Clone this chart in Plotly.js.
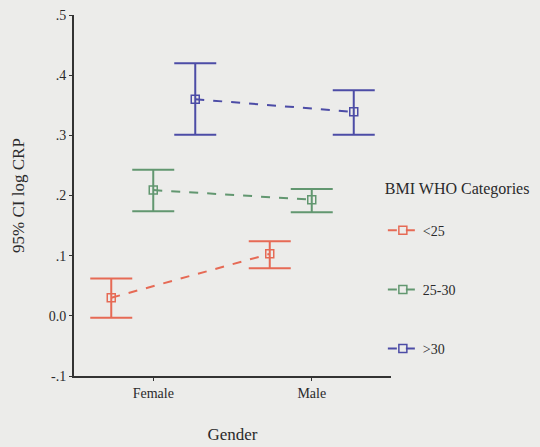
<!DOCTYPE html>
<html>
<head>
<meta charset="utf-8">
<script src="https://cdn.plot.ly/plotly-3.0.1.min.js"></script>
<style>html,body{margin:0;padding:0;background:#ececea;}</style>
</head>
<body>
<div id="chart" style="width:540px;height:447px;"></div>
<script>
const categories = ["Female", "Male"];
const seriesNames = ["<25", "25-30", ">30"];
const meanLt25 = [0.030, 0.103];
const upperLt25 = [0.062, 0.124];
const lowerLt25 = [-0.003, 0.079];
const mean25to30 = [0.209, 0.193];
const upper25to30 = [0.243, 0.211];
const lower25to30 = [0.174, 0.172];
const meanGt30 = [0.360, 0.339];
const upperGt30 = [0.420, 0.375];
const lowerGt30 = [0.301, 0.301];
const yTickVals = [-0.1, 0, 0.1, 0.2, 0.3, 0.4, 0.5];
const yTickText = ["-.1", "0.0", ".1", ".2", ".3", ".4", ".5"];

const colors = ["#e66a55", "#629770", "#4c4ca6"];
const offsets = [-0.265, 0, 0.265];
const means = [meanLt25, mean25to30, meanGt30];
const uppers = [upperLt25, upper25to30, upperGt30];
const lowers = [lowerLt25, lower25to30, lowerGt30];

const traces = seriesNames.map((name, i) => ({
  type: "scatter",
  mode: "lines+markers",
  name: name,
  legendgroup: name,
  x: categories.map((c, k) => k + offsets[i]),
  y: means[i],
  error_y: {
    type: "data",
    symmetric: false,
    array: means[i].map((m, k) => uppers[i][k] - m),
    arrayminus: means[i].map((m, k) => m - lowers[i][k]),
    color: colors[i],
    thickness: 2,
    width: 21
  },
  line: {color: colors[i], dash: "dash", width: 2},
  marker: {symbol: "square-open", size: 8, color: colors[i], line: {width: 1.5, color: colors[i]}}
}));

const font = {family: "Liberation Serif, Times New Roman, serif", color: "#2a2a2a"};

Plotly.newPlot("chart", traces, {
  width: 540, height: 447,
  margin: {l: 74, r: 149, t: 15, b: 71, autoexpand: false},
  paper_bgcolor: "#ececea",
  plot_bgcolor: "#ececea",
  font: Object.assign({size: 13}, font),
  showlegend: true,
  legend: {
    xref: "container", yref: "container",
    x: 0.709, xanchor: "left", y: 0.613, yanchor: "top",
    bgcolor: "rgba(0,0,0,0)",
    font: Object.assign({size: 14}, font),
    title: {text: "BMI WHO Categories<br> ", font: Object.assign({size: 16}, font), side: "top"},
    traceorder: "grouped",
    tracegroupgap: 38,
    itemwidth: 30
  },
  xaxis: {
    range: [-0.5, 1.5],
    tickvals: categories.map((c, k) => k),
    ticktext: categories,
    showgrid: false, zeroline: false,
    showline: true, linecolor: "#333", linewidth: 2,
    ticks: "outside", ticklen: 3, tickcolor: "#333",
    tickfont: Object.assign({size: 14}, font),
    title: {text: "Gender", font: Object.assign({size: 17}, font), standoff: 28}
  },
  yaxis: {
    range: [-0.1, 0.5],
    tickvals: yTickVals,
    ticktext: yTickText,
    showgrid: false, zeroline: false,
    showline: true, linecolor: "#333", linewidth: 2,
    ticks: "outside", ticklen: 3, tickcolor: "#333",
    tickfont: Object.assign({size: 14}, font),
    title: {text: "95% CI log CRP", font: Object.assign({size: 17}, font), standoff: 20}
  }
}, {displayModeBar: false, staticPlot: true});
</script>
</body>
</html>
